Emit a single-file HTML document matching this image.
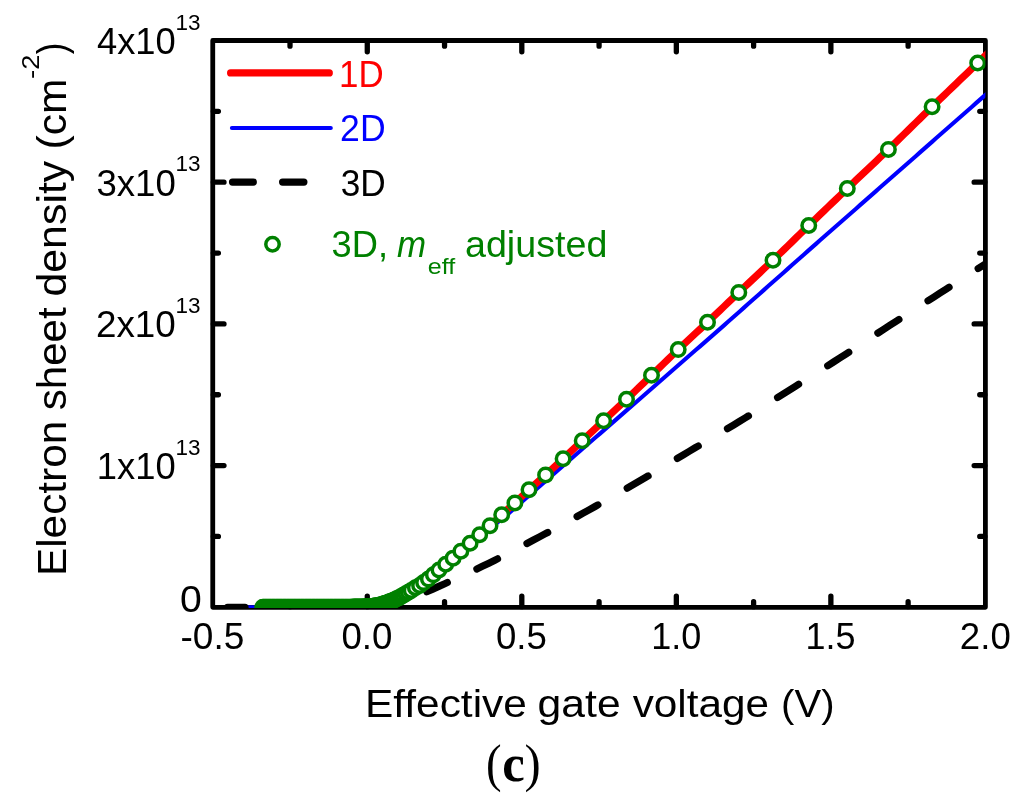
<!DOCTYPE html>
<html lang="en">
<head>
<meta charset="utf-8">
<title>Electron sheet density vs effective gate voltage (c)</title>
<style>html,body{margin:0;padding:0;background:#fff}body{width:1024px;height:811px;overflow:hidden}svg{display:block}</style>
</head>
<body>
<svg width="1024" height="811" viewBox="0 0 1024 811">
<rect width="1024" height="811" fill="#fff"/>
<defs><clipPath id="pc"><rect x="212.75" y="40.5" width="772.65" height="567.5"/></clipPath></defs>
<rect x="212.75" y="40.5" width="772.65" height="566.8" fill="none" stroke="#000" stroke-width="4.8" stroke-linejoin="round"/>
<g stroke="#000" stroke-width="5.3" stroke-linecap="round">
<path d="M290.01 41.1v5.05 M290.01 606.7v-5.05"/>
<path d="M367.28 41.1v10.65 M367.28 606.7v-10.65"/>
<path d="M444.55 41.1v5.05 M444.55 606.7v-5.05"/>
<path d="M521.81 41.1v10.65 M521.81 606.7v-10.65"/>
<path d="M599.08 41.1v5.05 M599.08 606.7v-5.05"/>
<path d="M676.34 41.1v10.65 M676.34 606.7v-10.65"/>
<path d="M753.61 41.1v5.05 M753.61 606.7v-5.05"/>
<path d="M830.87 41.1v10.65 M830.87 606.7v-10.65"/>
<path d="M908.13 41.1v5.05 M908.13 606.7v-5.05"/>
<path d="M213.35 536.45h5.05 M984.8 536.45h-5.05"/>
<path d="M213.35 465.6h10.65 M984.8 465.6h-10.65"/>
<path d="M213.35 394.75h5.05 M984.8 394.75h-5.05"/>
<path d="M213.35 323.9h10.65 M984.8 323.9h-10.65"/>
<path d="M213.35 253.05h5.05 M984.8 253.05h-5.05"/>
<path d="M213.35 182.2h10.65 M984.8 182.2h-10.65"/>
<path d="M213.35 111.35h5.05 M984.8 111.35h-5.05"/>
</g>
<g clip-path="url(#pc)" fill="none">
<polyline points="248,607.3 252,607.3 256,607.3 260,607.3 264,607.3 268,607.3 272,607.3 276,607.3 280,607.3 284,607.3 288,607.3 292,607.3 296,607.3 300,607.3 304,607.3 308,607.3 312,607.3 316,607.3 320,607.3 324,607.3 328,607.3 332,607.3 336,607.29 340,607.26 344,607.23 348,607.19 352,607.14 356,607.08 360,607.01 364,606.91 368,606.74 372,606.46 376,605.87 380,605.09 384,603.96 388,602.62 392,601.14 396,599.47 400,597.59 404,595.39 408,593.07 412,590.68 416,588.29 420,586.19 424,583.42 428,580.65 432,577.48 436,574.12 440,570.79 444,567.6 448,564.42 452,561.24 456,557.9 460,554.43 464,551.12 468,547.92 472,544.62 476,541.2 480,537.76 484,534.39 488,531.03 492,527.57 496,523.97 500,520.34 504,517.34 508,513.85 512,510.36 516,506.88 520,503.39 524,499.9 528,496.41 532,492.92 536,489.43 540,485.94 544,482.45 548,478.96 552,475.47 556,471.98 560,468.49 564,465 568,461.51 572,458.02 576,454.53 580,451.04 584,447.55 588,444.06 592,440.57 596,437.08 600,433.59 604,430.1 608,426.61 612,423.12 616,419.63 620,416.14 624,412.65 628,409.16 632,405.67 636,402.18 640,398.69 644,395.2 648,391.71 652,388.22 656,384.73 660,381.24 664,377.75 668,374.26 672,370.77 676,367.28 680,363.79 684,360.3 688,356.81 692,353.32 696,349.83 700,346.34 704,342.85 708,339.36 712,335.87 716,332.38 720,328.89 724,325.35 728,321.8 732,318.25 736,314.71 740,311.16 744,307.62 748,304.07 752,300.53 756,296.98 760,293.43 764,289.89 768,286.34 772,282.8 776,279.25 780,275.71 784,272.16 788,268.62 792,265.07 796,261.52 800,257.98 804,254.43 808,250.89 812,247.36 816,243.84 820,240.32 824,236.81 828,233.29 832,229.77 836,226.26 840,222.74 844,219.22 848,215.7 852,212.19 856,208.67 860,205.15 864,201.64 868,198.12 872,194.6 876,191.09 880,187.57 884,184.05 888,180.54 892,177.02 896,173.5 900,169.98 904,166.47 908,162.95 912,159.43 916,155.92 920,152.4 924,148.88 928,145.37 932,141.85 936,138.33 940,134.82 944,131.3 948,127.78 952,124.27 956,120.75 960,117.23 964,113.71 968,110.2 972,106.68 976,103.16 980,99.65 984,96.13 988,92.62 990,90.86" stroke="#00f" stroke-width="4.1" stroke-linejoin="round"/>
<polyline points="256,607.3 260,607.3 264,607.3 268,607.3 272,607.3 276,607.3 280,607.3 284,607.3 288,607.3 292,607.3 296,607.3 300,607.3 304,607.3 308,607.3 312,607.3 316,607.3 320,607.3 324,607.3 328,607.3 332,607.3 336,607.29 340,607.26 344,607.23 348,607.18 352,607.13 356,607.07 360,607 364,606.9 368,606.72 372,606.42 376,605.8 380,604.98 384,603.8 388,602.4 392,600.85 396,599.1 400,597.13 404,594.83 408,592.4 412,589.9 416,587.4 420,585.2 424,582.3 428,579.4 432,576.07 436,572.56 440,569.07 444,565.73 448,562.4 452,559.07 456,555.57 460,551.94 464,548.47 468,545.12 472,541.67 476,538.08 480,534.48 484,530.95 488,527.44 492,523.81 496,520.04 500,516.25 504,512.58 508,509.03 512,505.5 516,501.89 520,498.16 524,494.4 528,490.67 532,487.03 536,483.46 540,479.91 544,476.34 548,472.71 552,469.05 556,465.35 560,461.64 564,457.91 568,454.15 572,450.36 576,446.57 580,442.78 584,439.02 588,435.27 592,431.53 596,427.79 600,424.05 604,420.32 608,416.6 612,412.88 616,409.17 620,405.44 624,401.69 628,397.9 632,394.09 636,390.25 640,386.4 644,382.55 648,378.69 652,374.84 656,370.98 660,367.11 664,363.24 668,359.38 672,355.53 676,351.7 680,347.91 684,344.15 688,340.41 692,336.69 696,332.97 700,329.25 704,325.51 708,321.74 712,317.96 716,314.15 720,310.33 724,306.51 728,302.69 732,298.87 736,295.07 740,291.28 744,287.5 748,283.75 752,280 756,276.25 760,272.5 764,268.74 768,264.96 772,261.16 776,257.34 780,253.48 784,249.61 788,245.72 792,241.83 796,237.93 800,234.04 804,230.15 808,226.28 812,222.42 816,218.57 820,214.71 824,210.86 828,207.02 832,203.17 836,199.33 840,195.5 844,191.67 848,187.84 852,184.03 856,180.23 860,176.44 864,172.65 868,168.86 872,165.07 876,161.27 880,157.46 884,153.64 888,149.8 892,145.94 896,142.06 900,138.16 904,134.26 908,130.34 912,126.43 916,122.51 920,118.59 924,114.69 928,110.8 932,106.92 936,103.05 940,99.19 944,95.33 948,91.48 952,87.64 956,83.8 960,79.96 964,76.12 968,72.28 972,68.45 976,64.61 980,60.77 984,56.94 988,53.11 990,51.2" stroke="#f00" stroke-width="7.2" stroke-linejoin="round"/>
<g stroke="#000" stroke-width="7.2" stroke-linecap="round" stroke-linejoin="round">
<polyline points="227.6,607.3 233.6,607.3 239.6,607.3 245,607.3"/>
<polyline points="276.65,607.3 282.65,607.3 288.65,607.3 294.65,607.3 296.55,607.3"/>
<polyline points="326.8,607.3 332.8,607.3 338.8,607.3 344.8,607.3 346.7,607.3"/>
<polyline points="376.89,606.82 382.89,606.29 388.89,605.25 394.89,603.93 396.91,603.39"/>
<polyline points="426.78,591.79 432.78,589.1 438.78,586.4 444.78,583.7 447.32,582.55"/>
<polyline points="476.88,568.96 482.88,566.1 488.88,563.18 494.88,560.19 497.52,558.86"/>
<polyline points="526.98,543.48 532.98,540.29 538.98,537.11 544.98,533.91 547.72,532.45"/>
<polyline points="577.1,516.5 583.1,513.19 589.1,509.86 595.1,506.5 597.9,504.92"/>
<polyline points="627.21,488.18 633.21,484.7 639.21,481.2 645.21,477.67 648.09,475.97"/>
<polyline points="677.34,458.45 683.34,454.86 689.34,451.28 695.34,447.72 698.26,446"/>
<polyline points="727.47,428.7 733.47,425.09 739.47,421.44 745.47,417.75 748.43,415.92"/>
<polyline points="777.59,397.58 783.59,393.79 789.59,389.99 795.59,386.2 798.61,384.29"/>
<polyline points="827.73,365.75 833.73,361.9 839.73,358.04 845.73,354.15 848.77,352.17"/>
<polyline points="877.87,333.12 883.87,329.2 889.87,325.31 895.87,321.44 898.93,319.47"/>
<polyline points="928.03,300.79 934.03,296.94 940.03,293.08 946.03,289.23 949.07,287.28"/>
<polyline points="978.17,268.58 984.17,264.7 990.17,260.8 996.17,256.89 999.23,254.91"/>
</g>
<g stroke="#008000" stroke-width="3.5" fill="#fff">
<circle cx="262.8" cy="607.3" r="6.75"/><circle cx="263.92" cy="607.3" r="6.75"/><circle cx="265.08" cy="607.3" r="6.75"/><circle cx="266.24" cy="607.3" r="6.75"/><circle cx="267.4" cy="607.3" r="6.75"/><circle cx="268.56" cy="607.3" r="6.75"/><circle cx="269.72" cy="607.3" r="6.75"/><circle cx="270.88" cy="607.3" r="6.75"/><circle cx="272.04" cy="607.3" r="6.75"/><circle cx="273.2" cy="607.3" r="6.75"/><circle cx="274.36" cy="607.3" r="6.75"/><circle cx="275.52" cy="607.3" r="6.75"/><circle cx="276.68" cy="607.3" r="6.75"/><circle cx="277.84" cy="607.3" r="6.75"/><circle cx="279" cy="607.3" r="6.75"/><circle cx="280.16" cy="607.3" r="6.75"/><circle cx="281.32" cy="607.3" r="6.75"/><circle cx="282.48" cy="607.3" r="6.75"/><circle cx="283.64" cy="607.3" r="6.75"/><circle cx="284.8" cy="607.3" r="6.75"/><circle cx="285.96" cy="607.3" r="6.75"/><circle cx="287.12" cy="607.3" r="6.75"/><circle cx="288.28" cy="607.3" r="6.75"/><circle cx="289.44" cy="607.3" r="6.75"/><circle cx="290.6" cy="607.3" r="6.75"/><circle cx="291.76" cy="607.3" r="6.75"/><circle cx="292.92" cy="607.3" r="6.75"/><circle cx="294.08" cy="607.3" r="6.75"/><circle cx="295.24" cy="607.3" r="6.75"/><circle cx="296.4" cy="607.3" r="6.75"/><circle cx="297.56" cy="607.3" r="6.75"/><circle cx="298.72" cy="607.3" r="6.75"/><circle cx="299.88" cy="607.3" r="6.75"/><circle cx="301.04" cy="607.3" r="6.75"/><circle cx="302.2" cy="607.3" r="6.75"/><circle cx="303.36" cy="607.3" r="6.75"/><circle cx="304.52" cy="607.3" r="6.75"/><circle cx="305.68" cy="607.3" r="6.75"/><circle cx="306.84" cy="607.3" r="6.75"/><circle cx="308" cy="607.3" r="6.75"/><circle cx="309.16" cy="607.3" r="6.75"/><circle cx="310.32" cy="607.3" r="6.75"/><circle cx="311.48" cy="607.3" r="6.75"/><circle cx="312.64" cy="607.3" r="6.75"/><circle cx="313.8" cy="607.3" r="6.75"/><circle cx="314.96" cy="607.3" r="6.75"/><circle cx="316.12" cy="607.3" r="6.75"/><circle cx="317.28" cy="607.3" r="6.75"/><circle cx="318.44" cy="607.3" r="6.75"/><circle cx="319.6" cy="607.3" r="6.75"/><circle cx="320.76" cy="607.3" r="6.75"/><circle cx="321.92" cy="607.3" r="6.75"/><circle cx="323.08" cy="607.3" r="6.75"/><circle cx="324.24" cy="607.3" r="6.75"/><circle cx="325.4" cy="607.3" r="6.75"/><circle cx="326.56" cy="607.3" r="6.75"/><circle cx="327.72" cy="607.3" r="6.75"/><circle cx="328.88" cy="607.3" r="6.75"/><circle cx="330.04" cy="607.3" r="6.75"/><circle cx="331.2" cy="607.3" r="6.75"/><circle cx="332.36" cy="607.3" r="6.75"/><circle cx="333.52" cy="607.3" r="6.75"/><circle cx="334.68" cy="607.29" r="6.75"/><circle cx="335.84" cy="607.29" r="6.75"/><circle cx="337" cy="607.28" r="6.75"/><circle cx="338.16" cy="607.27" r="6.75"/><circle cx="339.32" cy="607.27" r="6.75"/><circle cx="340.48" cy="607.26" r="6.75"/><circle cx="341.64" cy="607.25" r="6.75"/><circle cx="342.8" cy="607.24" r="6.75"/><circle cx="343.96" cy="607.23" r="6.75"/><circle cx="345.13" cy="607.22" r="6.75"/><circle cx="346.29" cy="607.2" r="6.75"/><circle cx="347.45" cy="607.19" r="6.75"/><circle cx="348.61" cy="607.17" r="6.75"/><circle cx="349.77" cy="607.16" r="6.75"/><circle cx="350.93" cy="607.14" r="6.75"/><circle cx="352.09" cy="607.13" r="6.75"/><circle cx="353.26" cy="607.11" r="6.75"/><circle cx="354.42" cy="607.09" r="6.75"/><circle cx="355.58" cy="607.07" r="6.75"/><circle cx="356.75" cy="607.06" r="6.75"/><circle cx="357.91" cy="607.04" r="6.75"/><circle cx="359.08" cy="607.02" r="6.75"/><circle cx="360.25" cy="607" r="6.75"/><circle cx="361.41" cy="606.97" r="6.75"/><circle cx="362.58" cy="606.94" r="6.75"/><circle cx="363.75" cy="606.9" r="6.75"/><circle cx="364.93" cy="606.86" r="6.75"/><circle cx="366.1" cy="606.81" r="6.75"/><circle cx="367.28" cy="606.76" r="6.75"/><circle cx="368.46" cy="606.69" r="6.75"/><circle cx="369.65" cy="606.62" r="6.75"/><circle cx="370.84" cy="606.54" r="6.75"/><circle cx="372.03" cy="606.41" r="6.75"/><circle cx="373.24" cy="606.26" r="6.75"/><circle cx="374.44" cy="606.07" r="6.75"/><circle cx="375.66" cy="605.87" r="6.75"/><circle cx="376.89" cy="605.64" r="6.75"/><circle cx="378.13" cy="605.4" r="6.75"/><circle cx="379.38" cy="605.13" r="6.75"/><circle cx="380.65" cy="604.82" r="6.75"/><circle cx="381.94" cy="604.46" r="6.75"/><circle cx="383.25" cy="604.05" r="6.75"/><circle cx="384.59" cy="603.61" r="6.75"/><circle cx="385.96" cy="603.13" r="6.75"/><circle cx="387.36" cy="602.63" r="6.75"/><circle cx="388.81" cy="602.1" r="6.75"/><circle cx="390.32" cy="601.53" r="6.75"/><circle cx="391.88" cy="600.91" r="6.75"/><circle cx="393.51" cy="600.22" r="6.75"/><circle cx="395.23" cy="599.45" r="6.75"/><circle cx="397.04" cy="598.61" r="6.75"/><circle cx="398.97" cy="597.67" r="6.75"/><circle cx="401.03" cy="596.56" r="6.75"/><circle cx="403.26" cy="595.27" r="6.75"/><circle cx="405.67" cy="593.81" r="6.75"/><circle cx="408.31" cy="592.22" r="6.75"/><circle cx="411.2" cy="590.41" r="6.75"/><circle cx="415.4" cy="587.76" r="6.75"/><circle cx="419.6" cy="585.43" r="6.75"/><circle cx="423.6" cy="582.6" r="6.75"/><circle cx="428.4" cy="579.09" r="6.75"/><circle cx="433.4" cy="574.84" r="6.75"/><circle cx="439" cy="569.93" r="6.75"/><circle cx="445.7" cy="564.32" r="6.75"/><circle cx="453.1" cy="558.13" r="6.75"/><circle cx="460.9" cy="551.14" r="6.75"/><circle cx="470.1" cy="543.33" r="6.75"/><circle cx="479.7" cy="534.75" r="6.75"/><circle cx="490" cy="525.64" r="6.75"/><circle cx="501.7" cy="514.67" r="6.75"/><circle cx="514.9" cy="502.89" r="6.75"/><circle cx="529" cy="489.75" r="6.75"/><circle cx="545.6" cy="474.9" r="6.75"/><circle cx="563.1" cy="458.75" r="6.75"/><circle cx="582.2" cy="440.71" r="6.75"/><circle cx="603.6" cy="420.69" r="6.75"/><circle cx="626.5" cy="399.33" r="6.75"/><circle cx="651.5" cy="375.32" r="6.75"/><circle cx="678.2" cy="349.61" r="6.75"/><circle cx="707.5" cy="322.22" r="6.75"/><circle cx="738.8" cy="292.41" r="6.75"/><circle cx="773" cy="260.21" r="6.75"/><circle cx="808.75" cy="225.56" r="6.75"/><circle cx="847.3" cy="188.51" r="6.75"/><circle cx="888.4" cy="149.41" r="6.75"/><circle cx="932.1" cy="106.82" r="6.75"/><circle cx="977.7" cy="62.98" r="6.75"/>
</g>
</g>
<g fill="none" stroke-linecap="round">
<path d="M230.6 72.9H329.3" stroke="#f00" stroke-width="7.2"/>
<path d="M231.9 127.95H330.8" stroke="#00f" stroke-width="4.1"/>
<path d="M232.5 182.1H253.3M282.6 182.1H303.9" stroke="#000" stroke-width="7.2"/>
<circle cx="272.5" cy="244.2" r="6.7" stroke="#008000" stroke-width="3.5"/>
</g>
<g font-family="'Liberation Sans', 'DejaVu Sans', sans-serif">
<text x="339.04" y="86.7" font-size="36.8" textLength="44.63" lengthAdjust="spacingAndGlyphs" fill="#f00">1D</text>
<text x="340.11" y="141.3" font-size="36.8" textLength="45.49" lengthAdjust="spacingAndGlyphs" fill="#00f">2D</text>
<text x="340.66" y="195.7" font-size="36.8" textLength="45.03" lengthAdjust="spacingAndGlyphs">3D</text>
<g fill="#008000">
<text x="331.62" y="257.3" font-size="36.8" textLength="56.44" lengthAdjust="spacingAndGlyphs">3D,</text>
<text x="396.92" y="257.3" font-size="36.8" textLength="29.1" lengthAdjust="spacingAndGlyphs" font-style="italic">m</text>
<text x="427.85" y="274.3" font-size="22.2" textLength="27.41" lengthAdjust="spacingAndGlyphs">eff</text>
<text x="465" y="257.3" font-size="36.8" textLength="142.33" lengthAdjust="spacingAndGlyphs">adjusted</text>
</g>
<text x="180.55" y="649" font-size="36.8" textLength="63.8" lengthAdjust="spacingAndGlyphs">-0.5</text>
<text x="341.45" y="649" font-size="36.8" textLength="50.96" lengthAdjust="spacingAndGlyphs">0.0</text>
<text x="495.98" y="649" font-size="36.8" textLength="50.87" lengthAdjust="spacingAndGlyphs">0.5</text>
<text x="651.3" y="649" font-size="36.8" textLength="50.05" lengthAdjust="spacingAndGlyphs">1.0</text>
<text x="805.53" y="649" font-size="36.8" textLength="49.95" lengthAdjust="spacingAndGlyphs">1.5</text>
<text x="959.86" y="649" font-size="36.8" textLength="50.87" lengthAdjust="spacingAndGlyphs">2.0</text>
<text x="96.83" y="479.1" font-size="36.8" textLength="78.89" lengthAdjust="spacingAndGlyphs">1x10</text>
<text x="175.59" y="454.6" font-size="21.2" textLength="25" lengthAdjust="spacingAndGlyphs">13</text>
<text x="95.95" y="337.4" font-size="36.8" textLength="79.79" lengthAdjust="spacingAndGlyphs">2x10</text>
<text x="175.59" y="312.9" font-size="21.2" textLength="25" lengthAdjust="spacingAndGlyphs">13</text>
<text x="96.41" y="195.7" font-size="36.8" textLength="79.32" lengthAdjust="spacingAndGlyphs">3x10</text>
<text x="175.59" y="171.2" font-size="21.2" textLength="25" lengthAdjust="spacingAndGlyphs">13</text>
<text x="96.97" y="54" font-size="36.8" textLength="78.75" lengthAdjust="spacingAndGlyphs">4x10</text>
<text x="175.59" y="29.5" font-size="21.2" textLength="25" lengthAdjust="spacingAndGlyphs">13</text>
<text x="180.07" y="612.4" font-size="36.8" textLength="21.76" lengthAdjust="spacingAndGlyphs">0</text>
<text x="364.94" y="716.6" font-size="39.2" textLength="161.94" lengthAdjust="spacingAndGlyphs">Effective</text>
<text x="537.61" y="716.6" font-size="39.2" textLength="83.09" lengthAdjust="spacingAndGlyphs">gate</text>
<text x="632.66" y="716.6" font-size="39.2" textLength="136.42" lengthAdjust="spacingAndGlyphs">voltage</text>
<text x="781.12" y="716.6" font-size="39.2" textLength="53.37" lengthAdjust="spacingAndGlyphs">(V)</text>
<g transform="translate(65.9 0) rotate(-90)">
<text x="-576.08" y="0" font-size="40.6" textLength="155.43" lengthAdjust="spacingAndGlyphs">Electron</text>
<text x="-410.37" y="0" font-size="40.6" textLength="103.08" lengthAdjust="spacingAndGlyphs">sheet</text>
<text x="-296.6" y="0" font-size="40.6" textLength="135.88" lengthAdjust="spacingAndGlyphs">density</text>
<text x="-149.44" y="0" font-size="40.6" textLength="70.84" lengthAdjust="spacingAndGlyphs">(cm</text>
<text x="-78.92" y="-27.4" font-size="23.4" textLength="24.4" lengthAdjust="spacingAndGlyphs">-2</text>
<text x="-54.2" y="0" font-size="40.6" textLength="11.56" lengthAdjust="spacingAndGlyphs">)</text>
</g>
</g>
<g font-family="'Liberation Serif', 'DejaVu Serif', serif">
<text x="485.95" y="780.6" font-size="51.8" textLength="15.56" lengthAdjust="spacingAndGlyphs">(</text>
<text x="502.27" y="780.8" font-size="53.5" textLength="22.49" lengthAdjust="spacingAndGlyphs" font-weight="bold">c</text>
<text x="524.43" y="780.6" font-size="51.8" textLength="16.21" lengthAdjust="spacingAndGlyphs">)</text>
</g>
</svg>
</body>
</html>
